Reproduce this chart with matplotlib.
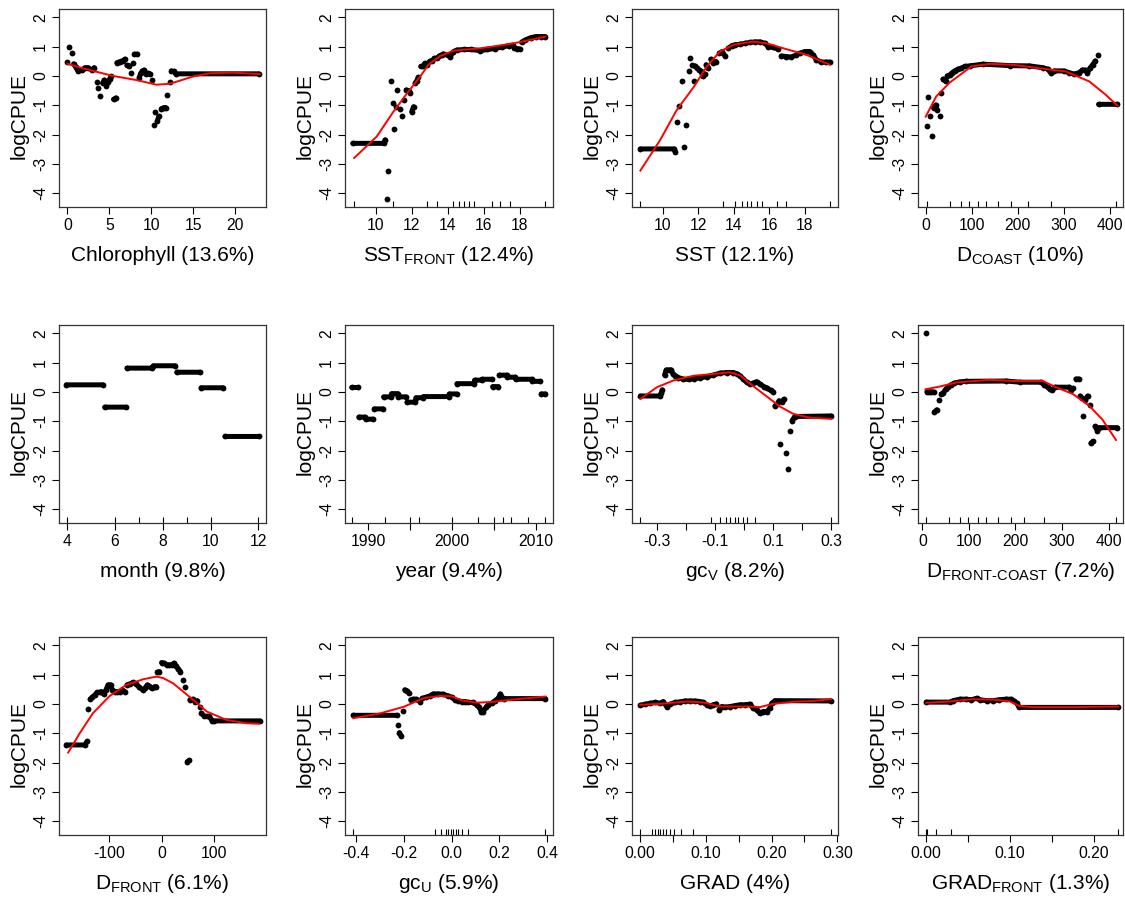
import numpy as np
import matplotlib
matplotlib.use("Agg")
import matplotlib.pyplot as plt

plt.rcParams["font.family"] = ["Liberation Sans", "DejaVu Sans"]
plt.rcParams["mathtext.fontset"] = "custom"
plt.rcParams["mathtext.rm"] = "Liberation Sans"
plt.rcParams["mathtext.default"] = "regular"
plt.rcParams["axes.unicode_minus"] = False

# ---- data (x, fitted logCPUE, smooth, rug deciles) ----
chl_x = [0.0, 0.2, 0.5, 0.75, 1.0, 1.3, 1.7, 2.1, 2.5, 2.9, 3.2, 3.5, 3.7, 3.9, 4.2, 4.4, 4.65, 4.85,
         5.05, 5.2, 5.5, 5.8, 5.9, 6.3, 6.6, 6.85, 7.1, 7.35, 7.55, 7.8, 8.0, 8.35, 8.55, 8.75, 8.95,
         9.15, 9.35, 9.6, 9.9, 10.1, 10.3, 10.5, 10.7, 10.9, 11.2, 11.5, 11.7, 11.9, 12.2, 12.4, 12.7,
         12.9, 22.8]
chl_y = [0.47, 0.97, 0.77, 0.41, 0.3, 0.15, 0.2, 0.28, 0.28, 0.2, 0.28, -0.2, -0.42, -0.7, -0.25,
         -0.14, -0.34, -0.2, -0.1, -0.02, -0.8, -0.75, 0.45, 0.49, 0.52, 0.57, 0.36, 0.35, 0.09, 0.43,
         0.74, 0.74, -0.06, 0.09, 0.17, 0.2, 0.07, 0.09, 0.06, -0.14, -1.67, -1.22, -1.55, -1.38, -1.12,
         -1.08, -1.08, -0.65, -0.2, 0.17, 0.15, 0.07, 0.07]
chl_sx = [0, 2.1, 5.4, 8.2, 10.6, 12.2, 15, 17, 19.8, 22.9]
chl_sy = [0.41, 0.24, 0.0, -0.14, -0.3, -0.27, -0.02, 0.09, 0.11, 0.06]
chl_rug = []

sstf_x = [8.72, 10.43, 10.52, 10.61, 10.7, 10.85, 10.95, 11.02, 11.13, 11.2, 11.32, 11.45, 11.58, 11.69,
          11.82, 11.91, 12.0, 12.1, 12.19, 12.28, 12.37, 12.5, 12.62, 12.72, 12.85, 13.0, 13.13, 13.26,
          13.4, 13.54, 13.67, 13.76, 14.0, 14.14, 14.32, 14.5, 14.9, 15.3, 15.8, 16.2, 16.6, 17.0, 17.4,
          17.6, 17.7, 17.85, 18.0, 18.1, 18.3, 18.6, 18.9, 19.2, 19.42]
sstf_y = [-2.3, -2.3, -2.18, -4.2, -3.24, -0.19, -0.93, -1.82, -1.05, -0.48, -1.14, -1.36, -0.82, -0.48,
          -0.5, -0.57, -1.22, -1.05, -0.25, -0.16, -0.05, 0.32, 0.32, 0.43, 0.38, 0.5, 0.51, 0.6, 0.6,
          0.68, 0.72, 0.75, 0.7, 0.66, 0.83, 0.88, 0.9, 0.9, 0.86, 0.9, 0.93, 0.98, 1.03, 1.05, 0.95,
          0.93, 0.92, 1.15, 1.22, 1.3, 1.34, 1.34, 1.34]
sstf_sx = [8.8, 10.05, 10.98, 11.82, 12.47, 12.93, 13.58, 14.32, 15.8, 16.73, 17.66, 18.77, 19.42]
sstf_sy = [-2.8, -2.07, -1.22, -0.53, -0.02, 0.38, 0.68, 0.86, 0.94, 1.02, 1.11, 1.25, 1.34]
sstf_rug = [8.79, 10.98, 12.84, 13.4, 14.32, 14.6, 14.88, 15.16, 15.44, 16.46, 16.92, 17.48, 19.43]

sst_x = [8.75, 10.66, 10.71, 10.8, 10.95, 11.1, 11.21, 11.33, 11.46, 11.55, 11.68, 11.78, 11.83, 11.96,
         12.07, 12.17, 12.26, 12.36, 12.45, 12.58, 12.71, 12.86, 13.0, 13.2, 13.35, 13.51, 13.7, 13.89,
         14.07, 14.36, 14.63, 14.92, 15.2, 15.48, 15.76, 15.94, 16.22, 16.5, 16.69, 16.97, 17.25, 17.53,
         17.72, 18.0, 18.28, 18.47, 18.65, 18.93, 19.21, 19.4]
sst_y = [-2.49, -2.49, -2.58, -1.57, -1.02, -0.19, -2.43, -1.67, 0.18, 0.6, 0.38, -0.19, 0.34, 0.26,
         0.2, 0.15, -0.02, 0.07, 0.38, 0.28, 0.57, 0.45, 0.49, 0.77, 0.83, 0.68, 0.94, 1.03, 1.06, 1.08,
         1.11, 1.14, 1.16, 1.16, 1.11, 1.0, 0.97, 0.91, 0.68, 0.66, 0.64, 0.72, 0.77, 0.83, 0.83, 0.72,
         0.55, 0.47, 0.47, 0.47]
sst_sx = [8.75, 9.87, 10.8, 11.74, 12.49, 13.23, 13.98, 15.1, 15.85, 16.97, 18.09, 19.4]
sst_sy = [-3.23, -2.18, -1.16, -0.39, 0.32, 0.83, 1.06, 1.17, 1.11, 0.91, 0.72, 0.38]
sst_rug = [8.75, 13.38, 14.07, 14.45, 14.73, 15.0, 15.29, 15.57, 16.41, 16.97, 19.4]

dco_x = [2, 5, 8.6, 14.4, 17.3, 21.6, 24.5, 30.3, 33.9, 37.5, 43.2, 46.8, 51.9, 57.7, 62.7, 69.9, 77.1,
         84.3, 95.1, 124, 182, 225, 254, 265, 272, 279, 300, 311, 322, 333, 340, 346, 351, 356, 362,
         368, 373, 375, 416]
dco_y = [-1.7, -0.73, -1.36, -2.05, -1.1, -0.99, -1.16, -1.36, -0.59, -0.11, -0.19, 0.0, 0.03, 0.11,
         0.17, 0.23, 0.26, 0.32, 0.34, 0.4, 0.35, 0.34, 0.28, 0.23, 0.09, 0.17, 0.17, 0.11, 0.06, 0.11,
         0.2, 0.2, 0.11, 0.26, 0.38, 0.51, 0.72, -0.97, -0.97]
dco_sx = [0, 23, 52, 99, 138, 189, 246, 304, 355, 391, 416]
dco_sy = [-1.39, -0.7, -0.23, 0.32, 0.41, 0.38, 0.26, 0.15, -0.19, -0.65, -1.02]
dco_rug = [4, 52, 77, 94, 113, 131, 156, 185, 221, 272, 412]

mon_x = [3.96, 5.5, 5.56, 6.45, 6.5, 7.54, 7.6, 8.52, 8.58, 9.55, 9.6, 10.53, 10.6, 12.04]
mon_y = [0.24, 0.24, -0.52, -0.52, 0.81, 0.81, 0.89, 0.89, 0.67, 0.67, 0.14, 0.14, -1.52, -1.52]
mon_rug = [4, 6, 7, 8, 9, 10, 12]

yr_x = [1988.0, 1988.8, 1988.85, 1989.6, 1989.65, 1990.56, 1990.7, 1991.76, 1991.8, 1992.7, 1992.75,
        1993.5, 1993.55, 1994.5, 1994.6, 1995.6, 1995.65, 1996.5, 1996.55, 1999.6, 1999.65, 2000.5,
        2000.55, 2002.6, 2002.65, 2003.5, 2003.55, 2004.7, 2004.8, 2005.5, 2005.6, 2006.5, 2006.55,
        2007.5, 2007.55, 2009.5, 2009.55, 2010.5, 2010.6, 2011.1]
yr_y = [0.15, 0.15, -0.86, -0.86, -0.93, -0.93, -0.58, -0.58, -0.17, -0.17, -0.06, -0.06, -0.17, -0.17,
        -0.35, -0.35, -0.2, -0.2, -0.16, -0.16, -0.07, -0.07, 0.28, 0.28, 0.4, 0.4, 0.43, 0.43, 0.18,
        0.18, 0.57, 0.57, 0.5, 0.5, 0.43, 0.43, 0.36, 0.36, -0.07, -0.07]
yr_rug = [1988, 1992, 1995, 1996, 2000, 2003, 2005, 2006, 2007, 2009, 2011]

gcv_x = [-0.357, -0.289, -0.286, -0.282, -0.274, -0.268, -0.26, -0.251, -0.245, -0.237, -0.226, -0.209,
         -0.191, -0.174, -0.151, -0.129, -0.106, -0.083, -0.06, -0.037, -0.023, -0.014, -0.003, 0.009,
         0.02, 0.031, 0.043, 0.054, 0.068, 0.079, 0.091, 0.1, 0.106, 0.114, 0.12, 0.125, 0.131, 0.137,
         0.143, 0.151, 0.157, 0.165, 0.174, 0.3]
gcv_y = [-0.14, -0.14, -0.05, 0.07, 0.58, 0.75, 0.75, 0.75, 0.61, 0.55, 0.49, 0.43, 0.43, 0.45, 0.48,
         0.52, 0.57, 0.64, 0.66, 0.66, 0.61, 0.55, 0.44, 0.32, 0.26, 0.3, 0.35, 0.27, 0.18, 0.13, 0.05,
         0.0, -0.48, -0.41, -0.3, -1.77, -0.33, -0.25, -2.09, -2.64, -1.35, -0.98, -0.84, -0.82]
gcv_sx = [-0.357, -0.3, -0.243, -0.174, -0.106, -0.049, -0.014, 0.031, 0.077, 0.123, 0.169, 0.226, 0.3]
gcv_sy = [-0.24, 0.16, 0.39, 0.55, 0.61, 0.67, 0.56, 0.2, -0.15, -0.5, -0.75, -0.88, -0.92]
gcv_rug = [-0.357, -0.114, -0.083, -0.063, -0.049, -0.031, -0.02, -0.005, 0.011, 0.037, 0.3]

dfc_x = [7, 10, 14, 19, 24, 26, 31, 36, 41, 44, 50, 55, 61, 69, 80, 94, 180, 210, 255, 262, 269, 274,
         279, 284, 316, 319, 324, 330, 336, 339, 343, 346, 350, 355, 360, 362, 366, 371, 376, 380, 419]
dfc_y = [2.0, 0.01, 0.0, 0.0, 0.0, -0.69, -0.61, -0.27, -0.07, -0.05, 0.09, 0.16, 0.24, 0.3, 0.34, 0.36,
         0.37, 0.33, 0.33, 0.24, 0.16, 0.09, 0.05, 0.16, 0.16, 0.07, 0.12, 0.44, 0.44, -0.14, -0.22,
         -0.81, -0.27, -0.14, -0.44, -1.75, -1.69, -1.18, -1.32, -1.22, -1.22]
dfc_sx = [7, 37, 73, 144, 201, 259, 287, 323, 359, 387, 416]
dfc_sy = [0.09, 0.18, 0.32, 0.41, 0.37, 0.37, 0.16, -0.07, -0.48, -0.95, -1.64]
dfc_rug = [7, 57, 80, 98, 119, 137, 162, 191, 219, 262, 416]

dfr_x = [-181.5, -146.5, -142, -140, -136, -132, -127, -123, -118, -115, -110, -106, -102, -97, -94,
         -89, -85, -80, -75, -70, -66, -61, -54, -48, -43, -36, -32, -27, -24, -19, -15, -10, -8, -4,
         0, 4, 10, 15, 19, 24, 27, 32, 36, 40, 45, 49, 53, 54, 59, 64, 68, 73, 76, 81, 86, 91, 96, 99,
         187]
dfr_y = [-1.4, -1.4, -1.28, -0.17, 0.16, 0.23, 0.31, 0.39, 0.39, 0.42, 0.34, 0.48, 0.65, 0.65, 0.48,
         0.42, 0.42, 0.39, 0.48, 0.42, 0.65, 0.68, 0.73, 0.68, 0.57, 0.48, 0.53, 0.65, 0.61, 0.53,
         0.57, 0.59, 1.08, 1.1, 1.41, 1.39, 1.33, 1.33, 1.33, 1.39, 1.3, 1.18, 1.1, 0.82, 0.59, -1.97,
         -1.93, 0.14, 0.16, 0.08, 0.11, -0.09, -0.32, -0.41, -0.43, -0.43, -0.57, -0.58, -0.58]
dfr_sx = [-178, -156, -131, -99, -67, -35, -10, 3, 22, 54, 86, 124, 162, 185]
dfr_sy = [-1.66, -1.0, -0.32, 0.27, 0.65, 0.84, 0.93, 0.88, 0.7, 0.23, -0.26, -0.55, -0.66, -0.68]
dfr_rug = []

gcu_x = [-0.411, -0.229, -0.225, -0.218, -0.211, -0.204, -0.196, -0.187, -0.178, -0.171, -0.161,
         -0.147, -0.133, -0.122, -0.105, -0.091, -0.077, -0.056, -0.035, -0.014, 0.0, 0.014, 0.028,
         0.042, 0.056, 0.07, 0.088, 0.105, 0.116, 0.124, 0.133, 0.145, 0.154, 0.168, 0.182, 0.196,
         0.204, 0.215, 0.218, 0.393]
gcu_y = [-0.39, -0.39, -0.72, -0.98, -1.09, -0.23, 0.48, 0.45, 0.36, 0.14, 0.16, 0.16, 0.08, 0.19,
         0.23, 0.27, 0.34, 0.34, 0.33, 0.27, 0.23, 0.14, 0.11, 0.08, 0.08, 0.05, 0.05, -0.03, -0.11,
         -0.26, -0.26, -0.11, -0.03, 0.02, 0.11, 0.19, 0.34, 0.19, 0.18, 0.18]
gcu_sx = [-0.411, -0.302, -0.2, -0.119, -0.049, 0.0, 0.042, 0.105, 0.175, 0.26, 0.393]
gcu_sy = [-0.49, -0.33, -0.1, 0.19, 0.27, 0.26, 0.12, 0.04, 0.07, 0.15, 0.25]
gcu_rug = [-0.411, -0.07, -0.042, -0.025, -0.014, -0.004, 0.007, 0.018, 0.028, 0.042, 0.067, 0.393]

grad_x = [0.0, 0.0076, 0.015, 0.023, 0.03, 0.035, 0.04, 0.046, 0.053, 0.061, 0.068, 0.076, 0.083,
          0.091, 0.096, 0.101, 0.106, 0.111, 0.116, 0.12, 0.124, 0.129, 0.137, 0.144, 0.152, 0.159,
          0.167, 0.172, 0.177, 0.182, 0.187, 0.193, 0.197, 0.2, 0.205, 0.29]
grad_y = [-0.05, -0.01, 0.02, 0.05, 0.02, 0.08, -0.09, -0.01, 0.05, 0.07, 0.1, 0.1, 0.1, 0.08, 0.05,
          -0.03, -0.07, -0.03, 0.0, -0.2, -0.09, -0.11, -0.09, -0.06, -0.03, -0.03, -0.01, -0.15, -0.2,
          -0.32, -0.26, -0.26, -0.15, 0.02, 0.11, 0.1]
grad_sx = [0, 0.03, 0.071, 0.096, 0.121, 0.162, 0.182, 0.202, 0.233, 0.263, 0.29]
grad_sy = [-0.03, 0.0, 0.08, 0.05, -0.09, -0.09, -0.11, 0.0, 0.07, 0.1, 0.16]
grad_rug = [0, 0.018, 0.023, 0.027, 0.03, 0.035, 0.039, 0.045, 0.052, 0.062, 0.08, 0.29]

gfr_x = [0.0, 0.028, 0.032, 0.04, 0.048, 0.054, 0.06, 0.064, 0.072, 0.08, 0.087, 0.095, 0.101, 0.105,
         0.108, 0.111, 0.229]
gfr_y = [0.06, 0.06, 0.11, 0.16, 0.16, 0.14, 0.19, 0.14, 0.11, 0.11, 0.14, 0.16, 0.16, 0.1, 0.02,
         -0.12, -0.12]
gfr_sx = [0, 0.028, 0.056, 0.083, 0.1, 0.111, 0.127, 0.175, 0.229]
gfr_sy = [0.04, 0.08, 0.16, 0.14, 0.08, -0.07, -0.11, -0.11, -0.09]
gfr_rug = [0, 0.001, 0.012, 0.029, 0.229]

labels = ["Chlorophyll (13.6%)", "SST$_{FRONT}$ (12.4%)", "SST (12.1%)", "D$_{COAST}$ (10%)",
          "month (9.8%)", "year (9.4%)", "gc$_{V}$ (8.2%)", r"D$_{FRONT\text{-}COAST}$ (7.2%)",
          "D$_{FRONT}$ (6.1%)", "gc$_{U}$ (5.9%)", "GRAD (4%)", "GRAD$_{FRONT}$ (1.3%)"]

panels = [
    (chl_x, chl_y, chl_sx, chl_sy, chl_rug, (-0.99, 23.66), [0, 5, 10, 15, 20], None),
    (sstf_x, sstf_y, sstf_sx, sstf_sy, sstf_rug, (8.29, 19.85), [10, 12, 14, 16, 18], None),
    (sst_x, sst_y, sst_sx, sst_sy, sst_rug, (8.28, 19.87), [10, 12, 14, 16, 18], None),
    (dco_x, dco_y, dco_sx, dco_sy, dco_rug, (-16.6, 428), [0, 100, 200, 300, 400], None),
    (mon_x, mon_y, None, None, mon_rug, (3.65, 12.32), [4, 6, 8, 10, 12], None),
    (yr_x, yr_y, None, None, yr_rug, (1987.2, 2012.0), [1990, 1995, 2000, 2005, 2010],
     ["1990", "", "2000", "", "2010"]),
    (gcv_x, gcv_y, gcv_sx, gcv_sy, gcv_rug, (-0.386, 0.323), [-0.3, -0.2, -0.1, 0.0, 0.1, 0.2, 0.3],
     ["-0.3", "", "-0.1", "", "0.1", "", "0.3"]),
    (dfc_x, dfc_y, dfc_sx, dfc_sy, dfc_rug, (-9.3, 431), [0, 100, 200, 300, 400], None),
    (dfr_x, dfr_y, dfr_sx, dfr_sy, dfr_rug, (-195.5, 199), [-100, 0, 100], None),
    (gcu_x, gcu_y, gcu_sx, gcu_sy, gcu_rug, (-0.446, 0.425), [-0.4, -0.2, 0.0, 0.2, 0.4],
     ["-0.4", "-0.2", "0.0", "0.2", "0.4"]),
    (grad_x, grad_y, grad_sx, grad_sy, grad_rug, (-0.0126, 0.301), [0, 0.05, 0.1, 0.15, 0.2, 0.25, 0.3],
     ["0.00", "", "0.10", "", "0.20", "", "0.30"]),
    (gfr_x, gfr_y, gfr_sx, gfr_sy, gfr_rug, (-0.0099, 0.235), [0, 0.05, 0.1, 0.15, 0.2],
     ["0.00", "", "0.10", "", "0.20"]),
]

W, H = 1125, 902
fig = plt.figure(figsize=(W / 100, H / 100), dpi=100)
lefts = [59, 345, 632, 918]
widths = [207, 208, 206, 205]
tops = [9, 325, 637]
h = 198

for k, (x, y, sx, sy, rug, xlim, ticks, ticklabels) in enumerate(panels):
    r, c = divmod(k, 4)
    ax = fig.add_axes([lefts[c] / W, 1 - (tops[r] + h) / H, widths[c] / W, h / H])
    ax.set_xlim(xlim)
    ax.set_ylim(-4.47, 2.28)

    # dense runs of the fitted values look like a thick band: join neighbours at the same height
    x = np.array(x, dtype=float)
    y = np.array(y, dtype=float)
    ypx = ax.transData.transform(np.column_stack([x, y]))[:, 1]
    xs, ys = [x[0]], [y[0]]
    for i in range(1, len(x)):
        if abs(ypx[i] - ypx[i - 1]) > 5:
            xs.append(np.nan)
            ys.append(np.nan)
        xs.append(x[i])
        ys.append(y[i])
    ax.plot(xs, ys, color="black", lw=3.6, solid_capstyle="round", solid_joinstyle="round")
    ax.plot(x, y, "o", color="black", ms=4.2, mec="none")

    if sx is not None:
        ax.plot(sx, sy, color="red", lw=1.4)

    if rug:
        ax.vlines(rug, 0, 0.03, transform=ax.get_xaxis_transform(), color="black", lw=0.8)

    ax.set_xticks(ticks)
    if ticklabels is not None:
        ax.set_xticklabels(ticklabels)
    ax.set_yticks([-4, -3, -2, -1, 0, 1, 2])
    ax.set_yticklabels(["-4", "-3", "-2", "-1", "0", "1", "2"], rotation=90, va="center")
    ax.tick_params(direction="out", length=5, width=0.8, labelsize=11.3, pad=3, colors="black")
    for s in ax.spines.values():
        s.set_color("#333333")
        s.set_linewidth(0.9)

    ax.annotate("logCPUE", xy=(0, 0.46), xycoords="axes fraction", xytext=(-40 * 0.72, 0),
                textcoords="offset points", rotation=90, ha="center", va="center", fontsize=15)
    ax.annotate(labels[k], xy=(0.5, 0), xycoords="axes fraction", xytext=(0, -54 * 0.72),
                textcoords="offset points", ha="center", va="baseline", fontsize=15)

fig.savefig("out.png", dpi=100)
